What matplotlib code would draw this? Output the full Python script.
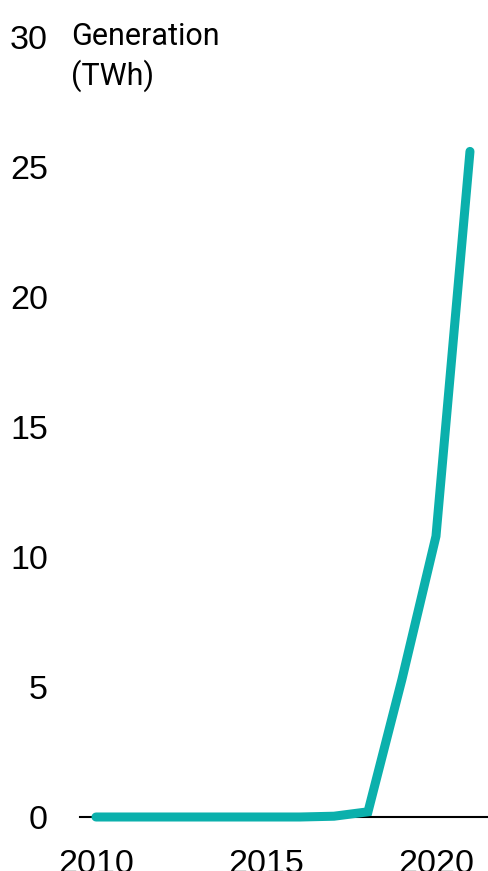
import matplotlib
matplotlib.use("Agg")
import matplotlib.pyplot as plt

years = [2010, 2011, 2012, 2013, 2014, 2015, 2016, 2017, 2018, 2019, 2020, 2021]
generation = [0.0, 0.0, 0.0, 0.0, 0.0, 0.0, 0.0, 0.03, 0.2, 5.3, 10.8, 25.6]
yticks = [0, 5, 10, 15, 20, 25, 30]
xticks = [2010, 2015, 2020]

W, H = 488, 871
fig = plt.figure(figsize=(W / 100, H / 100), dpi=100)
ax = fig.add_axes([80 / W, (H - 817) / H, (W - 80) / W, (817 - 37) / H])

ax.plot(years, generation, color="#0BB0AC", lw=6.5, solid_capstyle="round",
        solid_joinstyle="miter", clip_on=False, zorder=3)

ax.set_ylim(0, 30)
ax.set_xlim(2009.53, 2021.53)
ax.set_yticks(yticks)
ax.set_xticks(xticks)
for s in ["top", "right", "left"]:
    ax.spines[s].set_visible(False)
ax.spines["bottom"].set_color("black")
ax.spines["bottom"].set_linewidth(1.5)
ax.tick_params(axis="both", length=0, labelsize=24.5, labelcolor="black")
ax.tick_params(axis="y", pad=23)
ax.tick_params(axis="x", pad=23)
for lab in ax.get_xticklabels() + ax.get_yticklabels():
    lab.set_fontfamily("Liberation Sans")

fig.text(71 / W, 1 - 22 / H, "Generation\n(TWh)", fontsize=22, family="Roboto",
         va="top", ha="left", linespacing=1.35, color="black")

fig.savefig("out.png", dpi=100)
